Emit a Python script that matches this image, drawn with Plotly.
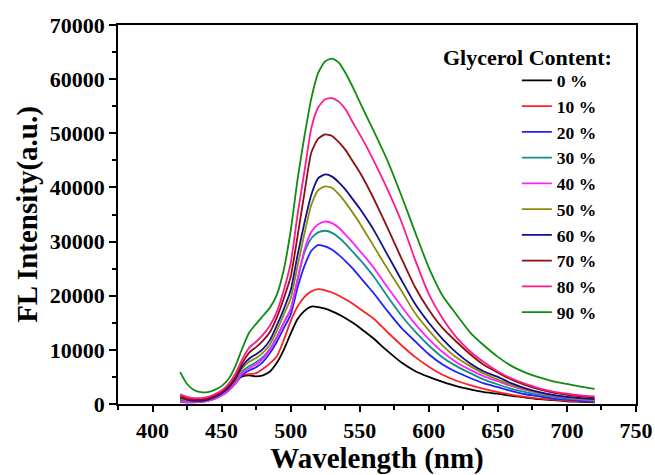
import plotly.graph_objects as go

# Wavelength grid (nm)
wavelength = [420, 425, 430, 435, 440, 445, 450, 455, 460, 465, 470, 475, 480, 485,
              490, 495, 500, 505, 510, 515, 520, 525, 530, 535, 540, 545, 550, 555,
              560, 570, 580, 590, 600, 610, 620, 630, 640, 650, 660, 670, 680, 690,
              700, 710, 720]

# Series labels and colours
labels = ["0 %", "10 %", "20 %", "30 %", "40 %", "50 %", "60 %", "70 %", "80 %", "90 %"]
colors = ["#000000", "#FF2020", "#2020FF", "#108C8C", "#FF20FF", "#8C8C10",
          "#10108C", "#8C1010", "#FF1A8C", "#108C10"]

# FL intensity (a.u.)
g0 = [800, 500, 400, 600, 1100, 1700, 2400, 3300, 4300, 5100, 5300, 5100, 5300, 6000,
      7600, 10000, 13000, 15700, 17200, 18000, 17900, 17600, 17100, 16500, 15800, 15000, 14100, 13100,
      12100, 9800, 7700, 6100, 5000, 4100, 3300, 2700, 2200, 1900, 1500, 1200, 900, 700,
      500, 400, 300]
g10 = [1600, 1100, 900, 900, 1100, 1500, 2200, 3200, 4500, 5400, 5500, 5700, 6500, 7500,
       8800, 11800, 15300, 18000, 19800, 20800, 21200, 21000, 20600, 20000, 19300, 18500, 17600, 16700,
       15800, 13300, 10900, 8700, 6900, 5400, 4300, 3500, 2800, 2200, 1700, 1300, 1000, 800,
       600, 500, 400]
g20 = [400, 300, 300, 400, 600, 1000, 1600, 2500, 3800, 5400, 6200, 6800, 7800, 9400,
       11500, 14000, 16500, 21500, 25500, 28300, 29400, 29100, 28500, 27500, 26300, 25000, 23500, 22000,
       20500, 17200, 14100, 11600, 9200, 7300, 5900, 4800, 3800, 3100, 2400, 1800, 1400, 1000,
       800, 600, 500]
g30 = [800, 500, 400, 400, 600, 1000, 1600, 2500, 3900, 6000, 7000, 7700, 8700, 10200,
       12400, 15000, 17500, 23000, 28000, 30600, 31700, 32000, 31600, 30700, 29500, 28100, 26700, 25200,
       23600, 19900, 16400, 13400, 10800, 8600, 7000, 5700, 4500, 3600, 2800, 2200, 1700, 1300,
       1000, 800, 600]
g40 = [500, 300, 300, 400, 600, 1000, 1600, 2500, 3800, 5700, 6600, 7300, 8400, 10000,
       12300, 15000, 17500, 23000, 28500, 31800, 33200, 33700, 33400, 32500, 31200, 29800, 28300, 26800,
       25200, 21600, 18100, 14800, 12000, 9600, 7700, 6300, 5100, 4200, 3300, 2600, 2000, 1500,
       1200, 900, 700]
g50 = [1100, 700, 600, 600, 800, 1300, 2000, 3000, 4500, 6600, 7800, 8500, 9500, 11000,
       13500, 16500, 19500, 25500, 31500, 36800, 39500, 40200, 39900, 38700, 37100, 35300, 33400, 31300,
       29200, 25000, 21000, 16800, 13600, 10800, 8600, 7000, 5600, 4500, 3500, 2700, 2100, 1600,
       1300, 1000, 800]
g60 = [1200, 800, 600, 600, 800, 1300, 2000, 3000, 4700, 7000, 8400, 9200, 10200, 11800,
       14500, 17500, 21000, 27500, 33500, 38700, 41700, 42400, 42000, 40900, 39500, 37800, 36100, 34200,
       32200, 27600, 23000, 18500, 15000, 12000, 9500, 7500, 6000, 5000, 3800, 2900, 2200, 1700,
       1300, 1100, 900]
g70 = [1300, 900, 800, 800, 1000, 1500, 2200, 3300, 5000, 7600, 9500, 10500, 11700, 13300,
       16000, 19500, 23500, 31000, 39000, 46500, 49000, 49800, 49500, 48300, 46800, 44800, 42800, 40500,
       38000, 32600, 27000, 21600, 17400, 14000, 11500, 9200, 7200, 5800, 4500, 3500, 2700, 2100,
       1700, 1400, 1200]
g80 = [1800, 1300, 1100, 1100, 1300, 1800, 2500, 3700, 5600, 8300, 10400, 11500, 12800, 14500,
       17000, 21000, 26000, 35000, 43000, 51000, 54800, 56300, 56500, 55800, 54300, 52000, 49800, 47500,
       45000, 39700, 33800, 26700, 20300, 15800, 12300, 9700, 7700, 6000, 4700, 3700, 2900, 2300,
       1900, 1600, 1400]
g90 = [5900, 3700, 2600, 2200, 2200, 2600, 3300, 4600, 7000, 10300, 13200, 14800, 16300, 17800,
       20200, 24800, 32000, 41500, 49500, 56500, 61200, 63300, 63800, 63000, 61000, 58500, 55800, 53100,
       50500, 45000, 38600, 31800, 25200, 20000, 16500, 13200, 10800, 8700, 7000, 5800, 4900, 4200,
       3700, 3200, 2800]

series = [g0, g10, g20, g30, g40, g50, g60, g70, g80, g90]

FONT = "Times New Roman, Liberation Serif, serif"

fig = go.Figure()
for lab, col, ys in zip(labels, colors, series):
    fig.add_trace(go.Scatter(
        x=wavelength, y=ys, mode="lines", name=lab,
        line=dict(color=col, width=1.8, shape="spline", smoothing=0.6),
    ))

axis_common = dict(
    showline=True, linecolor="black", linewidth=1.5, mirror=True,
    ticks="outside", tickcolor="black", tickwidth=1.5,
    showgrid=False, zeroline=False, automargin=False,
    tickfont=dict(family=FONT, size=22, color="black", weight="bold"),
)

fig.update_xaxes(
    range=[375, 750], dtick=50, tick0=400, ticklen=6,
    minor=dict(dtick=25, ticklen=4, tickcolor="black", tickwidth=1.5, ticks="outside"),
    title=dict(text="Wavelength (nm)", standoff=0,
               font=dict(family=FONT, size=29, color="black", weight="bold")),
    **axis_common,
)
fig.update_yaxes(
    range=[0, 70000], dtick=10000, tickformat="d", ticklen=7,
    minor=dict(dtick=5000, ticklen=4, tickcolor="black", tickwidth=1.5, ticks="outside"),
    title=dict(text="FL Intensity(a.u.)", standoff=4,
               font=dict(family=FONT, size=29, color="black", weight="bold")),
    **axis_common,
)

fig.add_annotation(
    text="Glycerol Content:", xref="paper", yref="paper",
    x=0.957, y=0.913, xanchor="right", yanchor="middle", showarrow=False,
    font=dict(family=FONT, size=22, color="black", weight="bold"),
)

fig.update_layout(
    width=655, height=475,
    margin=dict(l=118, r=19, t=25, b=71),
    paper_bgcolor="white", plot_bgcolor="white",
    font=dict(family=FONT, color="black"),
    legend=dict(
        x=0.77, y=0.901, xanchor="left", yanchor="top",
        bgcolor="rgba(0,0,0,0)", borderwidth=0,
        font=dict(family=FONT, size=17.5, color="black", weight="bold"),
        tracegroupgap=0,
    ),
)

fig.write_html("out.html", config={"displayModeBar": False},
               post_script="document.body.style.margin='0';document.body.style.padding='0';")
